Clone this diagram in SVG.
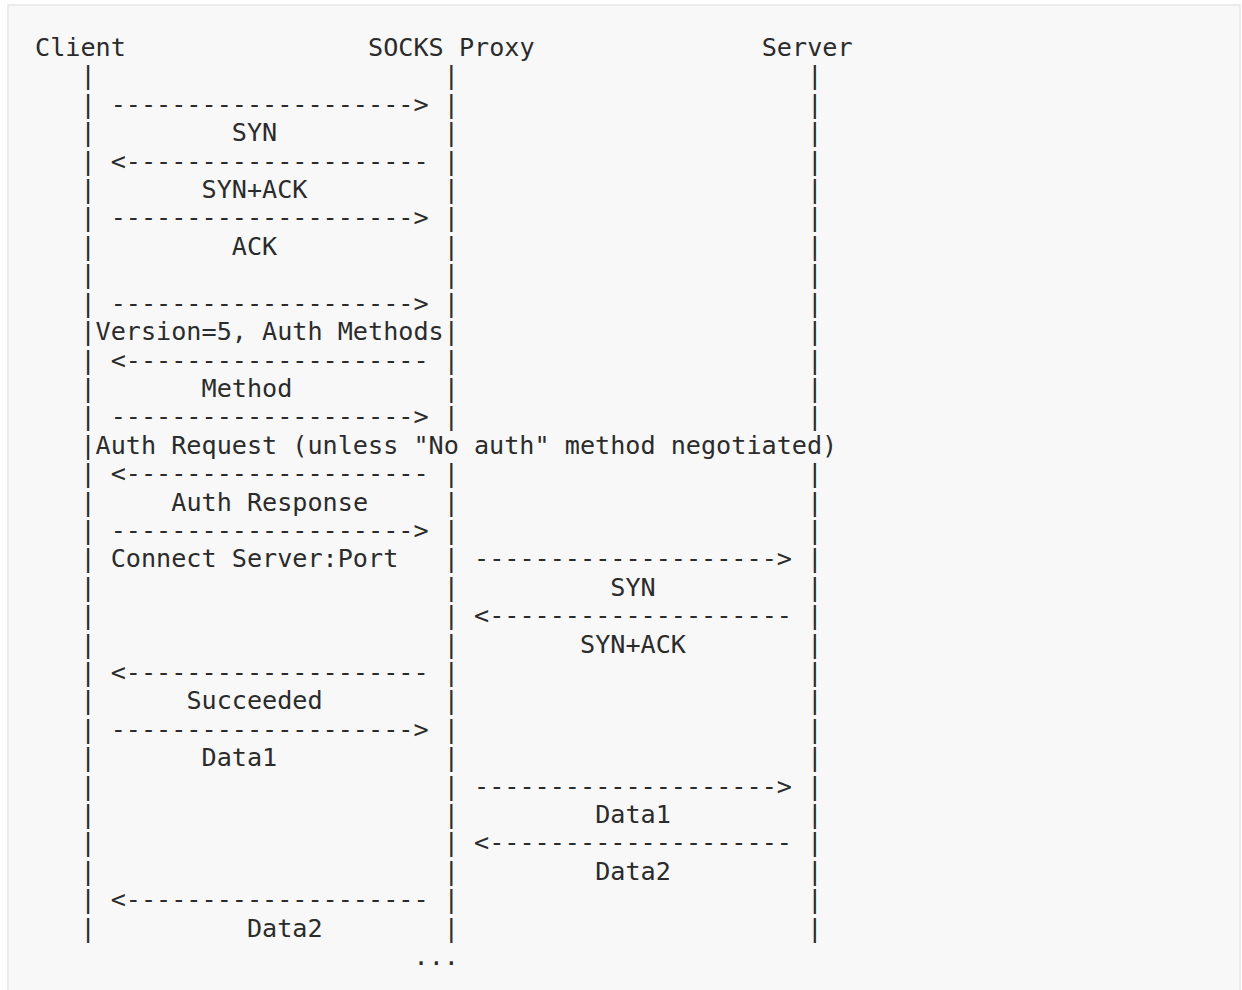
<svg xmlns="http://www.w3.org/2000/svg" width="1242" height="990" viewBox="0 0 1242 990">
<style>
text{font-family:"DejaVu Sans Mono","Liberation Mono",monospace;font-size:25.15px;fill:#2b2b2b;white-space:pre}
</style>
<rect x="0" y="0" width="1242" height="990" fill="#ffffff"/>
<rect x="8" y="5" width="1232" height="990" fill="#f8f8f8" stroke="#ececec" stroke-width="2"/>
<g id="client">
<text x="35" y="56">Client</text>
<text><tspan x="80.42" y="84.41">|</tspan><tspan x="80.42" y="112.82">|</tspan><tspan x="80.42" y="141.23">|</tspan><tspan x="80.42" y="169.64">|</tspan><tspan x="80.42" y="198.05">|</tspan><tspan x="80.42" y="226.46">|</tspan><tspan x="80.42" y="254.87">|</tspan><tspan x="80.42" y="283.28">|</tspan><tspan x="80.42" y="311.69">|</tspan><tspan x="80.42" y="340.1">|</tspan><tspan x="80.42" y="368.51">|</tspan><tspan x="80.42" y="396.92">|</tspan><tspan x="80.42" y="425.33">|</tspan><tspan x="80.42" y="453.74">|</tspan><tspan x="80.42" y="482.15">|</tspan><tspan x="80.42" y="510.56">|</tspan><tspan x="80.42" y="538.97">|</tspan><tspan x="80.42" y="567.38">|</tspan><tspan x="80.42" y="595.79">|</tspan><tspan x="80.42" y="624.2">|</tspan><tspan x="80.42" y="652.61">|</tspan><tspan x="80.42" y="681.02">|</tspan><tspan x="80.42" y="709.43">|</tspan><tspan x="80.42" y="737.84">|</tspan><tspan x="80.42" y="766.25">|</tspan><tspan x="80.42" y="794.66">|</tspan><tspan x="80.42" y="823.07">|</tspan><tspan x="80.42" y="851.48">|</tspan><tspan x="80.42" y="879.89">|</tspan><tspan x="80.42" y="908.3">|</tspan><tspan x="80.42" y="936.71">|</tspan></text>
</g>
<g id="proxy">
<text x="368.08" y="56">SOCKS Proxy</text>
<text><tspan x="443.78" y="84.41">|</tspan><tspan x="443.78" y="112.82">|</tspan><tspan x="443.78" y="141.23">|</tspan><tspan x="443.78" y="169.64">|</tspan><tspan x="443.78" y="198.05">|</tspan><tspan x="443.78" y="226.46">|</tspan><tspan x="443.78" y="254.87">|</tspan><tspan x="443.78" y="283.28">|</tspan><tspan x="443.78" y="311.69">|</tspan><tspan x="443.78" y="340.1">|</tspan><tspan x="443.78" y="368.51">|</tspan><tspan x="443.78" y="396.92">|</tspan><tspan x="443.78" y="425.33">|</tspan><tspan x="443.78" y="482.15">|</tspan><tspan x="443.78" y="510.56">|</tspan><tspan x="443.78" y="538.97">|</tspan><tspan x="443.78" y="567.38">|</tspan><tspan x="443.78" y="595.79">|</tspan><tspan x="443.78" y="624.2">|</tspan><tspan x="443.78" y="652.61">|</tspan><tspan x="443.78" y="681.02">|</tspan><tspan x="443.78" y="709.43">|</tspan><tspan x="443.78" y="737.84">|</tspan><tspan x="443.78" y="766.25">|</tspan><tspan x="443.78" y="794.66">|</tspan><tspan x="443.78" y="823.07">|</tspan><tspan x="443.78" y="851.48">|</tspan><tspan x="443.78" y="879.89">|</tspan><tspan x="443.78" y="908.3">|</tspan><tspan x="443.78" y="936.71">|</tspan></text>
</g>
<g id="server">
<text x="761.72" y="56">Server</text>
<text><tspan x="807.14" y="84.41">|</tspan><tspan x="807.14" y="112.82">|</tspan><tspan x="807.14" y="141.23">|</tspan><tspan x="807.14" y="169.64">|</tspan><tspan x="807.14" y="198.05">|</tspan><tspan x="807.14" y="226.46">|</tspan><tspan x="807.14" y="254.87">|</tspan><tspan x="807.14" y="283.28">|</tspan><tspan x="807.14" y="311.69">|</tspan><tspan x="807.14" y="340.1">|</tspan><tspan x="807.14" y="368.51">|</tspan><tspan x="807.14" y="396.92">|</tspan><tspan x="807.14" y="425.33">|</tspan><tspan x="807.14" y="482.15">|</tspan><tspan x="807.14" y="510.56">|</tspan><tspan x="807.14" y="538.97">|</tspan><tspan x="807.14" y="567.38">|</tspan><tspan x="807.14" y="595.79">|</tspan><tspan x="807.14" y="624.2">|</tspan><tspan x="807.14" y="652.61">|</tspan><tspan x="807.14" y="681.02">|</tspan><tspan x="807.14" y="709.43">|</tspan><tspan x="807.14" y="737.84">|</tspan><tspan x="807.14" y="766.25">|</tspan><tspan x="807.14" y="794.66">|</tspan><tspan x="807.14" y="823.07">|</tspan><tspan x="807.14" y="851.48">|</tspan><tspan x="807.14" y="879.89">|</tspan><tspan x="807.14" y="908.3">|</tspan><tspan x="807.14" y="936.71">|</tspan></text>
</g>
<g id="connectors">
<text x="110.7" y="112.82">--------------------&gt;</text>
<text x="231.82" y="141.23">SYN</text>
<text x="110.7" y="169.64">&lt;--------------------</text>
<text x="201.54" y="198.05">SYN+ACK</text>
<text x="110.7" y="226.46">--------------------&gt;</text>
<text x="231.82" y="254.87">ACK</text>
<text x="110.7" y="311.69">--------------------&gt;</text>
<text x="95.56" y="340.1">Version=5, Auth Methods</text>
<text x="110.7" y="368.51">&lt;--------------------</text>
<text x="201.54" y="396.92">Method</text>
<text x="110.7" y="425.33">--------------------&gt;</text>
<text x="95.56" y="453.74">Auth Request (unless "No auth" method negotiated)</text>
<text x="110.7" y="482.15">&lt;--------------------</text>
<text x="171.26" y="510.56">Auth Response</text>
<text x="110.7" y="538.97">--------------------&gt;</text>
<text x="110.7" y="567.38">Connect Server:Port</text>
<text x="474.06" y="567.38">--------------------&gt;</text>
<text x="610.32" y="595.79">SYN</text>
<text x="474.06" y="624.2">&lt;--------------------</text>
<text x="580.04" y="652.61">SYN+ACK</text>
<text x="110.7" y="681.02">&lt;--------------------</text>
<text x="186.4" y="709.43">Succeeded</text>
<text x="110.7" y="737.84">--------------------&gt;</text>
<text x="201.54" y="766.25">Data1</text>
<text x="474.06" y="794.66">--------------------&gt;</text>
<text x="595.18" y="823.07">Data1</text>
<text x="474.06" y="851.48">&lt;--------------------</text>
<text x="595.18" y="879.89">Data2</text>
<text x="110.7" y="908.3">&lt;--------------------</text>
<text x="246.96" y="936.71">Data2</text>
<text x="413.5" y="965.12">...</text>
</g>
</svg>
